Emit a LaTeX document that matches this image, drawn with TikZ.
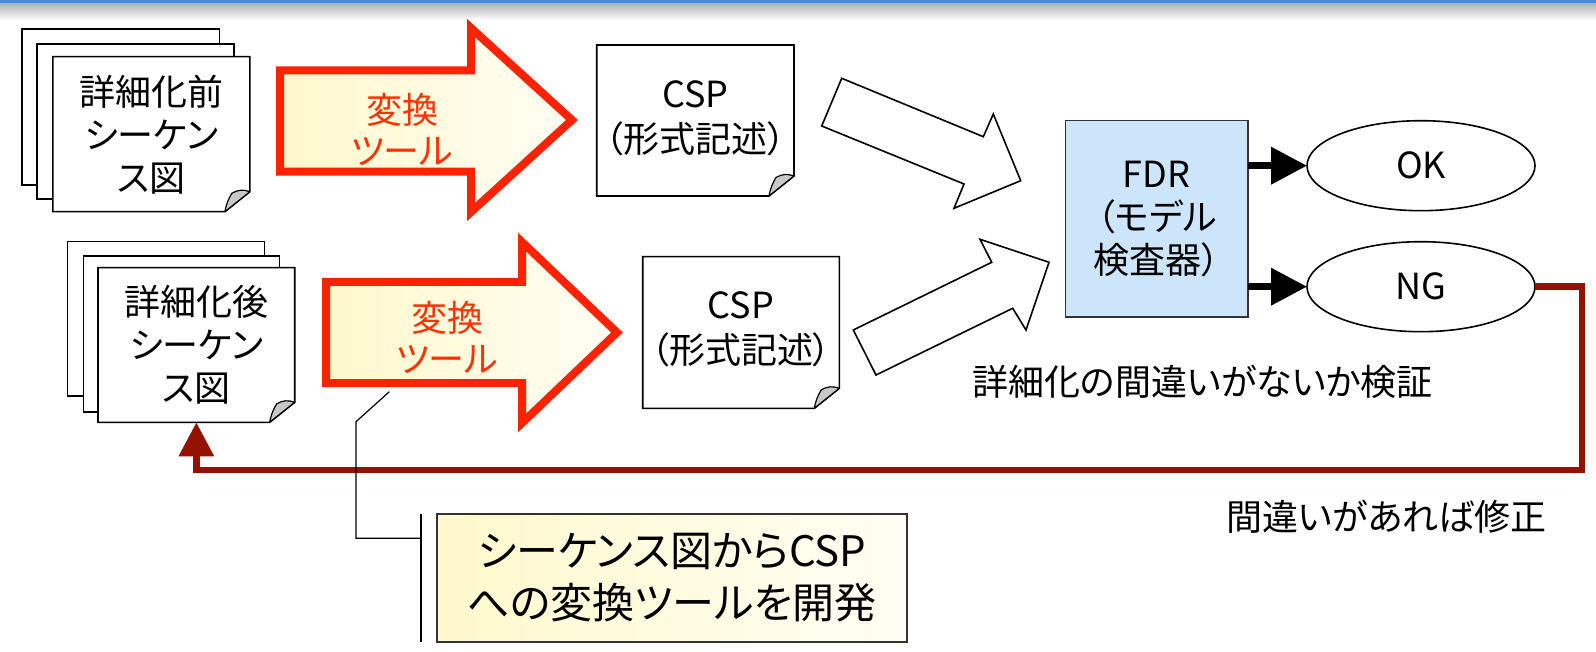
\documentclass[tikz,border=0pt]{standalone}
\usepackage{fontspec}
\setmainfont{Noto Sans CJK JP}[RawFeature=+palt]
\usetikzlibrary{arrows.meta,calc,shapes.geometric}
\definecolor{redarr}{HTML}{FF2200}
\definecolor{redtxt}{HTML}{FF3300}
\definecolor{ylw}{HTML}{FFF8CC}
\definecolor{ylwlight}{HTML}{FFFEF4}
\definecolor{fdrblue}{HTML}{CCE5FA}
\definecolor{darkred}{HTML}{941100}
\definecolor{foldgray}{HTML}{C8C8C8}
\definecolor{topblue}{HTML}{4A8AD0}
\newcommand\docoutline[4]{%
  \draw[pageline] (#1,#2) -- (#3,#2) -- (#3,#4-20) -- (#3-25,#4) -- (#1,#4) -- cycle;
  \draw[foldline] (#3-25,#4) to[bend left=10] (#3-18,#4-18.5) to[bend left=25] (#3,#4-20) -- cycle;}
\begin{document}
\begin{tikzpicture}[x=0.5pt,y=-0.5pt,
  every node/.style={inner sep=0pt, outer sep=0pt},
  txt/.style={font=\fontsize{18}{21.5}\selectfont, align=center},
  pagebox/.style={txt, minimum width=98.5pt, minimum height=77.4pt},
  backpage/.style={draw=black, fill=white, line width=0.8pt},
  pageline/.style={draw=black, fill=white, line width=0.8pt, line join=miter},
  foldline/.style={draw=black, fill=foldgray, line width=0.6pt, line join=round},
  bigarrow/.style={draw=redarr, line width=4pt, line join=miter, left color=ylw, right color=ylwlight},
  redlabel/.style={font=\fontsize{18}{20.5}\selectfont, text=redtxt, align=center},
  wharrow/.style={draw=black, fill=white, line width=0.8pt, line join=miter},
  fdrbox/.style={txt, draw=black!80, fill=fdrblue, line width=0.8pt, minimum width=91.3pt, minimum height=98.3pt},
  result/.style={font=\fontsize{18}{21.5}\selectfont, ellipse, draw=black, fill=white, line width=0.8pt, minimum width=114pt, minimum height=45pt},
  blkarrow/.style={line width=3.5pt, -{Triangle[length=18pt,width=18pt]}},
  fbarrow/.style={draw=darkred, line width=3.2pt, line join=miter, -{Triangle[length=17pt,width=17pt]}},
  callbox/.style={font=\fontsize{21}{25.8}\selectfont, align=center, draw=black!80, line width=0.8pt, left color=ylw, right color=ylwlight, minimum width=235pt, minimum height=63.9pt},
  leader/.style={draw=black, line width=0.6pt}
]
\useasboundingbox (0,0) rectangle (1596,652);
\fill[white] (0,0) rectangle (1596,652);
% top band
\shade[top color=black!30, bottom color=white] (0,3.5) rectangle (1596,20);
\fill[topblue] (0,0) rectangle (1596,3.5);

% stack 1
\draw[backpage] (21.8,29.3) rectangle (219.3,185);
\draw[backpage] (37.1,44) rectangle (234.2,199.3);
\docoutline{52.8}{56.7}{249.9}{211.7}
\node[pagebox] (pg1) at (151.35,134.2) {詳細化前\\シーケン\\ス図};

% stack 2
\draw[backpage] (67.3,241.7) rectangle (264.5,396);
\draw[backpage] (83.3,256) rectangle (279.6,411.7);
\docoutline{98}{267.7}{294.7}{422.3}
\node[pagebox] (pg2) at (196.35,345) {詳細化後\\シーケン\\ス図};

% red conversion arrows
\path[bigarrow] (280,70.3) -- (471,70.3) -- (471,28) -- (572,120) -- (471,212) -- (471,171.7) -- (280,171.7) -- cycle;
\node[redlabel] (conv1) at (402,129) {変換\\ツール};
\path[bigarrow] (326,282) -- (522,282) -- (522,242) -- (617,332.5) -- (522,423) -- (522,383) -- (326,383) -- cycle;
\node[redlabel] (conv2) at (447,337.5) {変換\\ツール};

% CSP documents
\docoutline{596.7}{45}{794}{196}
\node[pagebox, font=\fontsize{18}{22.5}\selectfont] (csp1) at (695.35,118) {CSP\\（形式記述）};
\docoutline{642.7}{256.7}{839.3}{408.3}
\node[pagebox, font=\fontsize{18}{22.5}\selectfont] (csp2) at (741,329.5) {CSP\\（形式記述）};

% white block arrows
\draw[wharrow] (841.7,78.3) -- (983.3,136.7) -- (993.3,114) -- (1020.7,180.7) -- (954,208.3) -- (964,184) -- (821.7,126) -- cycle;
\draw[wharrow] (853.3,330) -- (991.7,262.3) -- (980,239.3) -- (1049,262.3) -- (1026,330) -- (1012.7,308.3) -- (876,375) -- cycle;

% FDR and results
\node[fdrbox] (fdr) at (1156.7,219) {FDR\\（モデル\\検査器）};
\node[result] (ok) at (1421,165.7) {OK};
\node[result] (ng) at (1421,286.7) {NG};
\draw[blkarrow] (fdr.east |- ok.west) -- (ok.west);
\draw[blkarrow] (fdr.east |- ng.west) -- (ng.west);

\node[txt] (verify) at (1202.5,381.7) {詳細化の間違いがないか検証};

% feedback
\draw[fbarrow] (ng.east) -| (1582,470) -| (pg2.south);
\node[txt] (fix) at (1386.5,516.7) {間違いがあれば修正};

% callout
\node[callbox] (callout) at (672,577.85) {シーケンス図からCSP\\への変換ツールを開発};
\coordinate (bartop) at ([xshift=-8pt]callout.north west);
\coordinate (barbot) at ([xshift=-8pt]callout.south west);
\draw[line width=0.8pt] (bartop) -- (barbot);
\coordinate (calltip) at (389.3,391.7);
\draw[leader] (calltip) -- (356,421.7) |- ([yshift=-12.15pt]bartop);
\end{tikzpicture}
\end{document}
